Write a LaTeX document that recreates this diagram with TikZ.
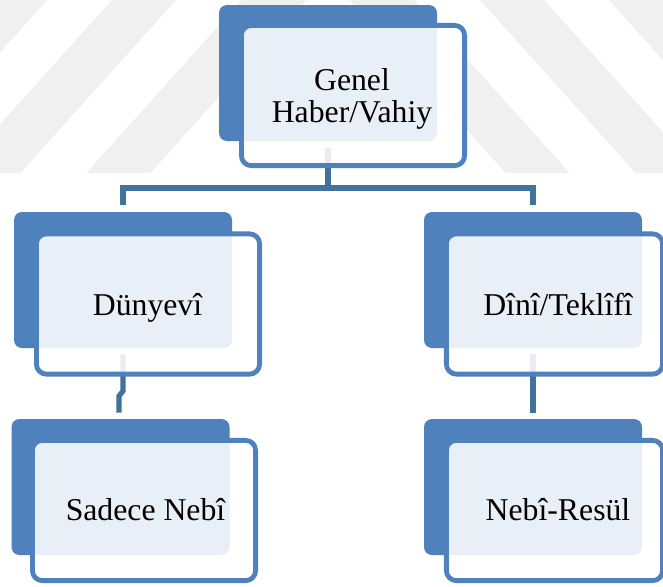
\documentclass[tikz,border=0pt]{standalone}
\usepackage{fontspec}
\setmainfont{Liberation Serif}
\usetikzlibrary{calc}
\definecolor{boxblue}{HTML}{4F81BD}
\definecolor{linkblue}{HTML}{41719C}
\definecolor{markgray}{HTML}{F0F0F0}
\pgfdeclarelayer{wm}
\pgfdeclarelayer{bg}
\pgfsetlayers{wm,bg,main}
\begin{document}
\begin{tikzpicture}[x=0.75pt,y=-0.75pt,
  backbox/.style={rectangle, rounded corners=6pt, fill=boxblue, inner sep=0pt,
    minimum width=163.5pt, minimum height=102pt},
  frontbox/.style={rectangle, rounded corners=7.5pt, draw=boxblue, line width=3.6pt,
    fill=white, fill opacity=0.88, inner sep=0pt,
    minimum width=167.4pt, minimum height=105.2pt},
  frontnarrow/.style={frontbox, minimum width=162.2pt},
  label/.style={font=\fontsize{23.8}{24}\selectfont, text=black, inner sep=0pt, align=center},
  link/.style={draw=linkblue, line width=3.9pt},
  wmark/.style={fill=markgray, draw=none}]
\useasboundingbox (0,0) rectangle (663,586);

% white page and a faint striped chevron behind everything
\begin{pgfonlayer}{wm}
\fill[white] (0,0) rectangle (663,586);
\begin{scope}
\clip (0,0) rectangle (663,586);
\foreach \p/\q in {-60/47, 112/176, 242/306}
  \fill[wmark] (\p,0) -- (\q,0) -- (\q-155.7,173) -- (\p-155.7,173) -- cycle;
\foreach \p/\q in {350/414, 480/544, 609/716}
  \fill[wmark] (\p,0) -- (\q,0) -- (\q+155.7,173) -- (\p+155.7,173) -- cycle;
\end{scope}
\end{pgfonlayer}

\begin{scope}
\clip (0,0) rectangle (663,586);
% solid back panels
\node[backbox] (topB) at (328,73) {};
\node[backbox] (midLB) at (123,280) {};
\node[backbox] (midRB) at (533,280) {};
\node[backbox] (botLB) at (120.5,487) {};
\node[backbox] (botRB) at (533,487) {};

% translucent framed front panels
\node[frontbox] (topF) at (353,95.5) {};
\node[frontbox] (midLF) at (148,304) {};
\node[frontnarrow] (midRF) at (554.5,304) {};
\node[frontbox] (botLF) at (144,510.5) {};
\node[frontnarrow] (botRF) at (554.5,510.5) {};
\end{scope}

% labels
\node[label] (topT) at (352,99) {Genel\\Haber/Vahiy};
\node[label, anchor=base] (midLT) at (147.5,315) {Dünyevî};
\node[label, anchor=base] (midRT) at (558,315) {Dînî/Teklîfî};
\node[label, anchor=base] (botLT) at (145.5,520) {Sadece Nebî};
\node[label, anchor=base] (botRT) at (558,520) {Nebî-Resül};

% tree connectors, behind the panels
\begin{pgfonlayer}{bg}
\coordinate (bus) at (328,188);
\coordinate (jogA) at (123,391);
\coordinate (jogB) at (119,396);
\draw[link] ($(topB.south)+(0,7)$) -- (topB.south |- bus);
\draw[link] ($(midLB.north)+(0,-7)$) |- (bus) -| ($(midRB.north)+(0,-7)$);
\draw[link] ($(midLB.south)+(0,6)$) -- (jogA) -- (jogB) -- ($(jogB |- botLB.north)+(0,-6)$);
\draw[link] ($(midRB.south)+(0,6)$) -- ($(botRB.north)+(0,-6)$);
\end{pgfonlayer}
\end{tikzpicture}
\end{document}
